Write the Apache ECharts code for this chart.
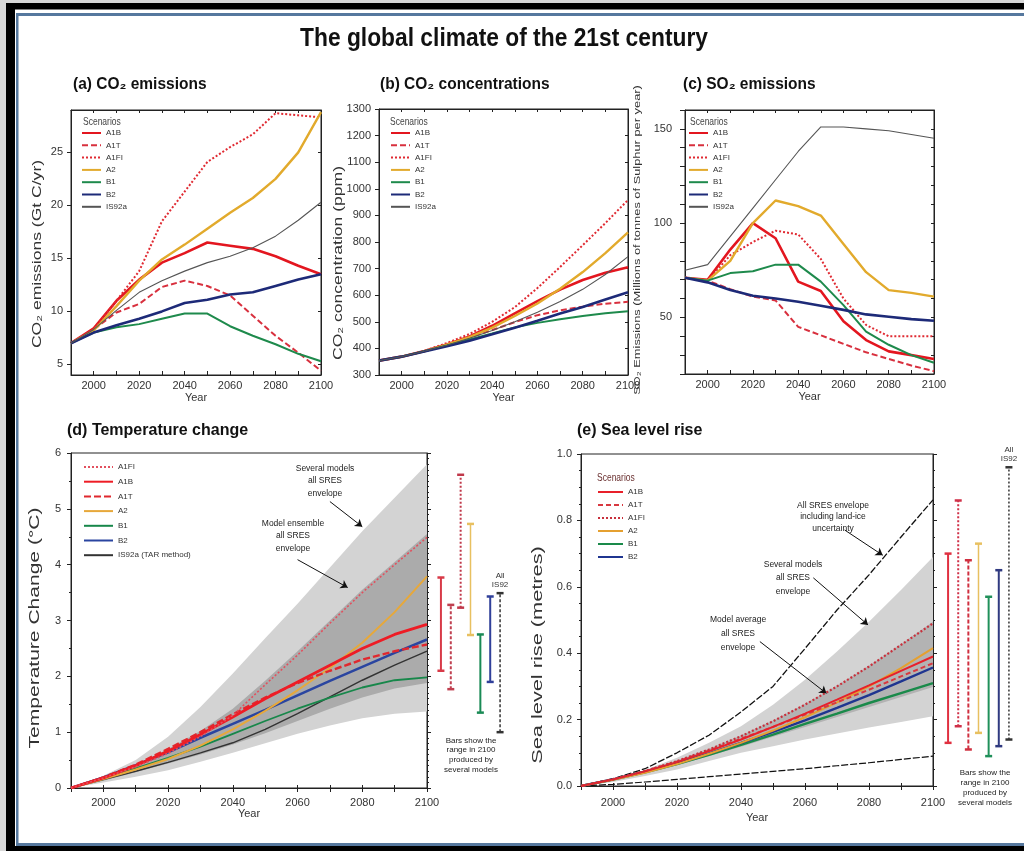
<!DOCTYPE html>
<html><head><meta charset="utf-8">
<script src="https://cdn.jsdelivr.net/npm/echarts@6/dist/echarts.min.js"></script>
<style>html,body{margin:0;padding:0;background:#fff}#c{width:1024px;height:851px}</style>
</head><body><div id="c"></div>
<script>
// ---------------- DATA ----------------
const years = [1990,2000,2010,2020,2030,2040,2050,2060,2070,2080,2090,2100];

// (a) CO2 emissions (Gt C/yr)
const emisA1B   = [7.0, 8.4, 11.0, 13.0, 14.6, 15.5, 16.5, 16.2, 15.9, 15.2, 14.3, 13.5];
const emisA1T   = [7.0, 8.3, 9.9, 10.7, 12.3, 12.9, 12.4, 11.5, 9.6, 7.7, 6.1, 4.4];
const emisA1FI  = [7.0, 8.3, 11.0, 13.8, 18.5, 21.3, 24.1, 25.5, 26.7, 28.7, 28.5, 28.3];
const emisA2    = [7.0, 8.2, 10.5, 12.9, 14.9, 16.3, 17.8, 19.3, 20.7, 22.5, 25.0, 28.8];
const emisB1    = [7.0, 8.0, 8.5, 8.8, 9.3, 9.8, 9.8, 8.6, 7.7, 6.9, 6.0, 5.3];
const emisB2    = [7.0, 8.0, 8.7, 9.3, 10.0, 10.8, 11.1, 11.6, 11.8, 12.4, 13.0, 13.5];
const emisIS92a = [7.0, 8.3, 10.1, 11.8, 12.9, 13.8, 14.6, 15.2, 16.0, 17.1, 18.6, 20.3];

// (b) CO2 concentrations (ppm)
const concA1B   = [354, 369, 390, 415, 445, 485, 532, 578, 621, 657, 684, 705];
const concA1T   = [354, 369, 389, 413, 441, 469, 499, 525, 543, 557, 568, 575];
const concA1FI  = [354, 369, 391, 420, 454, 500, 555, 627, 706, 788, 871, 958];
const concA2    = [354, 369, 389, 414, 442, 478, 522, 569, 624, 687, 758, 836];
const concB1    = [354, 369, 389, 411, 434, 456, 479, 496, 510, 522, 532, 540];
const concB2    = [354, 369, 388, 408, 429, 453, 478, 504, 531, 556, 584, 611];
const concIS92a = [354, 369, 389, 412, 438, 467, 500, 536, 576, 622, 678, 745];

// (c) SO2 emissions (Tg S/yr)
const so2A1B   = [71, 70, 86, 100, 92, 69, 64, 48, 38, 32, 30, 28];
const so2A1T   = [71, 69.5, 65, 61, 59, 45, 40.5, 36, 31.5, 28, 24.5, 21.5];
const so2A1FI  = [71, 69.5, 83, 90, 96, 94, 81, 60, 46, 40, 40, 40];
const so2A2    = [71, 69.5, 80, 100, 112, 109, 104, 89, 74, 64.5, 63, 61];
const so2B1    = [71, 69.5, 73.5, 74.5, 78, 78, 69, 56.5, 42.5, 35.5, 30, 26];
const so2B2    = [71, 68.6, 64.5, 61.5, 60, 58.3, 56.2, 54, 51.6, 50.4, 49.1, 48.2];
const so2IS92a = [75, 78, 93, 108, 123, 138, 151, 151, 150, 149, 147, 145];

// (d) Temperature change (deg C)
const tempA1FI  = [0, 0.18, 0.38, 0.62, 0.92, 1.30, 1.85, 2.38, 2.95, 3.50, 4.00, 4.49];
const tempA1B   = [0, 0.18, 0.40, 0.66, 0.96, 1.27, 1.60, 1.90, 2.20, 2.50, 2.75, 2.93];
const tempA1T   = [0, 0.19, 0.42, 0.70, 1.00, 1.32, 1.62, 1.88, 2.10, 2.30, 2.45, 2.57];
const tempA2    = [0, 0.16, 0.33, 0.52, 0.76, 1.05, 1.38, 1.75, 2.15, 2.60, 3.15, 3.79];
const tempB1    = [0, 0.17, 0.35, 0.54, 0.74, 0.97, 1.20, 1.42, 1.62, 1.80, 1.93, 1.98];
const tempB2    = [0, 0.19, 0.41, 0.64, 0.90, 1.15, 1.40, 1.66, 1.92, 2.17, 2.42, 2.66];
const tempIS92a = [0, 0.15, 0.30, 0.46, 0.63, 0.81, 1.05, 1.33, 1.63, 1.93, 2.20, 2.45];
const tempOuterLow  = [0, 0.10, 0.20, 0.32, 0.47, 0.63, 0.80, 0.97, 1.12, 1.25, 1.33, 1.37];
const tempInnerLow  = [0, 0.13, 0.28, 0.44, 0.60, 0.78, 0.98, 1.20, 1.42, 1.62, 1.78, 1.88];
const tempInnerHigh = [0, 0.20, 0.42, 0.70, 1.02, 1.42, 1.92, 2.45, 3.00, 3.55, 4.05, 4.55];
const tempOuterHigh = [0, 0.22, 0.50, 0.92, 1.45, 2.05, 2.68, 3.30, 3.95, 4.60, 5.20, 5.80];
const tempBarCats = ['A1B','A1T','A1FI','A2','B1','B2','All IS92'];
const tempBarLow  = [2.10, 1.77, 3.23, 2.74, 1.35, 1.90, 1.00];
const tempBarHigh = [3.77, 3.28, 5.61, 4.73, 2.75, 3.43, 3.49];

// (e) Sea level rise (metres)
const seaA1B  = [0, 0.020, 0.044, 0.072, 0.105, 0.140, 0.178, 0.218, 0.260, 0.303, 0.347, 0.390];
const seaA1T  = [0, 0.020, 0.045, 0.074, 0.107, 0.142, 0.178, 0.215, 0.252, 0.290, 0.330, 0.370];
const seaA1FI = [0, 0.020, 0.045, 0.075, 0.110, 0.150, 0.195, 0.245, 0.300, 0.360, 0.425, 0.490];
const seaA2   = [0, 0.019, 0.040, 0.066, 0.097, 0.130, 0.167, 0.207, 0.252, 0.300, 0.355, 0.415];
const seaB1   = [0, 0.019, 0.041, 0.066, 0.094, 0.124, 0.155, 0.187, 0.218, 0.250, 0.280, 0.310];
const seaB2   = [0, 0.020, 0.043, 0.069, 0.098, 0.130, 0.163, 0.198, 0.235, 0.274, 0.315, 0.357];
const seaIceHigh = [0, 0.022, 0.052, 0.100, 0.153, 0.223, 0.300, 0.414, 0.530, 0.636, 0.750, 0.862];
const seaIceLow  = [0, 0.005, 0.012, 0.020, 0.028, 0.036, 0.044, 0.052, 0.061, 0.070, 0.080, 0.090];
const seaOuterLow  = [0, 0.012, 0.030, 0.050, 0.075, 0.100, 0.120, 0.140, 0.158, 0.176, 0.193, 0.210];
const seaInnerLow  = [0, 0.018, 0.039, 0.063, 0.090, 0.118, 0.148, 0.178, 0.208, 0.238, 0.268, 0.298];
const seaInnerHigh = [0, 0.021, 0.046, 0.077, 0.112, 0.152, 0.197, 0.247, 0.302, 0.362, 0.427, 0.495];
const seaOuterHigh = [0, 0.020, 0.048, 0.085, 0.130, 0.180, 0.245, 0.320, 0.405, 0.495, 0.590, 0.690];
const seaBarCats = ['A1B','A1FI','A1T','A2','B1','B2','All IS92'];
const seaBarLow  = [0.13, 0.18, 0.11, 0.16, 0.09, 0.12, 0.14];
const seaBarHigh = [0.70, 0.86, 0.68, 0.73, 0.57, 0.65, 0.96];

// tick label values
const yearLabels = [2000, 2020, 2040, 2060, 2080, 2100];
const emisLabels = [5, 10, 15, 20, 25];
const so2Labels = [50, 100, 150];

// ---------------- STYLES ----------------
const FONT = '"Liberation Sans", Arial, Helvetica, sans-serif';
const stTop = {
  A1B:  {color:'#e3161f', width:2.6, type:'solid'},
  A1T:  {color:'#d8303e', width:2.0, type:[6,3]},
  A1FI: {color:'#e02a32', width:2.0, type:[2,2]},
  A2:   {color:'#e2aa2c', width:2.4, type:'solid'},
  B1:   {color:'#1e8a4c', width:2.0, type:'solid'},
  B2:   {color:'#1d2a78', width:2.6, type:'solid'},
  IS92a:{color:'#555555', width:1.1, type:'solid'}
};
const stD = {
  A1FI: {color:'#e2505e', width:1.6, type:[2,2]},
  A1B:  {color:'#ee1c25', width:2.8, type:'solid'},
  A1T:  {color:'#e0282e', width:2.4, type:[7,3]},
  A2:   {color:'#e7a83a', width:2.0, type:'solid'},
  B1:   {color:'#17874a', width:1.8, type:'solid'},
  B2:   {color:'#2a45a0', width:2.5, type:'solid'},
  IS92a:{color:'#333333', width:1.4, type:'solid'}
};
const stE = {
  A1B:  {color:'#e8202a', width:2.0, type:'solid'},
  A1T:  {color:'#d83840', width:2.0, type:[5,3]},
  A1FI: {color:'#c8303c', width:2.2, type:[2,2]},
  A2:   {color:'#e5a030', width:2.0, type:'solid'},
  B1:   {color:'#1a8a4a', width:2.4, type:'solid'},
  B2:   {color:'#1f3590', width:2.4, type:'solid'}
};
const barStD = [
  {color:'#d83a48', width:2, type:'solid'},
  {color:'#c04050', width:2, type:[3,2]},
  {color:'#c0384a', width:2, type:[2,2]},
  {color:'#e8c060', width:1.5, type:'solid'},
  {color:'#1a8a55', width:2, type:'solid'},
  {color:'#30409a', width:2, type:'solid'},
  {color:'#333333', width:1.5, type:[3,2]}
];
const barStE = [
  {color:'#e03040', width:2, type:'solid'},
  {color:'#d03048', width:2, type:[2,2]},
  {color:'#d03040', width:2, type:[4,2]},
  {color:'#e8c060', width:1.5, type:'solid'},
  {color:'#20905a', width:2, type:'solid'},
  {color:'#303a80', width:2, type:'solid'},
  {color:'#333333', width:1.5, type:[2,2]}
];

// ---------------- BUILD ----------------
const pts = arr => years.map((y,i)=>[y, arr[i]]);
const tag = '#';
const fmtName = n => n.split(tag)[0];

function mkLine(panel, key, data, st, gi, extra){
  return Object.assign({
    type:'line', name:key+tag+panel, xAxisIndex:gi, yAxisIndex:gi,
    data:pts(data), symbol:'none', showSymbol:false, silent:true, z:3,
    lineStyle:{color:st.color, width:st.width, type:st.type},
    itemStyle:{color:st.color}
  }, extra||{});
}
function bandCustom(gi, lo, hi, color){
  return {type:'custom', xAxisIndex:gi, yAxisIndex:gi, silent:true, z:1,
    data: years.map((y,i)=>[y, lo[i], hi[i]]),
    encode:{x:0, y:[1,2]},
    renderItem:(params, api)=>{
      if (params.dataIndex !== 0) return null;
      const up = years.map((y,i)=>api.coord([y, hi[i]]));
      const dn = years.map((y,i)=>api.coord([y, lo[i]])).reverse();
      return {type:'polygon', shape:{points: up.concat(dn)}, style:{fill:color}};
    }};
}
function barSeries(ai, cats, lows, highs, styles){
  return cats.map((c,i)=>{
    const hiItem = {value:[c, highs[i]]};
    if (c === 'All IS92') hiItem.label = {show:true, position:'top', distance:3, formatter:'All\nIS92',
      fontSize:8, lineHeight:9, color:'#333', fontFamily:FONT};
    return {type:'line', name:c+tag+'bar'+ai, xAxisIndex:ai, yAxisIndex:ai, silent:true, z:3,
      data:[{value:[c, lows[i]]}, hiItem], symbol:'rect', symbolSize:[7,2.5], showSymbol:true,
      lineStyle:{color:styles[i].color, width:styles[i].width, type:styles[i].type},
      itemStyle:{color:styles[i].color}};
  });
}

const grids = [
  {left:71,  top:110, width:250, height:265},
  {left:379, top:109, width:249, height:266},
  {left:685, top:110, width:249, height:264},
  {left:71,  top:453, width:356, height:335},
  {left:581, top:454, width:352, height:332},
  {left:436, top:453, width:69,  height:335},
  {left:943, top:454, width:71,  height:332}
].map((g,i)=>Object.assign({show:i<5, borderColor:'#222', borderWidth:1, backgroundColor:'transparent'}, g));

const axisLineS = {show:true, lineStyle:{color:'#222', width:1}};
const labS = {fontSize:11, color:'#333', fontFamily:FONT};
const yearFmt = v => yearLabels.indexOf(v) >= 0 ? String(v) : '';
const xMargins = [5,5,5,9,11];
const xInside = [true,true,true,false,false];
const xNameGap = [17,17,17,20,26];

const xAxes = [], yAxes = [];
for (let p=0;p<5;p++){
  xAxes.push({type:'value', gridIndex:p, min:1990, max:2100, interval:10, position:'bottom',
    axisLine:axisLineS, splitLine:{show:false},
    axisTick:{show:true, inside:xInside[p], length:4, lineStyle:{color:'#222'}},
    axisLabel:Object.assign({formatter:yearFmt, margin:xMargins[p]}, labS),
    name:'Year', nameLocation:'middle', nameGap:xNameGap[p],
    nameTextStyle:{fontSize:11, color:'#333', fontFamily:FONT}});
}
for (let p=0;p<5;p++){
  xAxes.push({type:'value', gridIndex:p, min:1990, max:2100, interval:10, position:'top',
    axisLine:axisLineS, splitLine:{show:false}, axisLabel:{show:false},
    axisTick:{show:true, inside:p<3, length:3, lineStyle:{color:'#222'}}});
}
xAxes.push({type:'category', gridIndex:5, data:tempBarCats, show:false, boundaryGap:true});
xAxes.push({type:'category', gridIndex:6, data:seaBarCats, show:false, boundaryGap:true});

const plain = v => String(v);
const yMain = [
  {min:4, max:29, axisLabel:{customValues:emisLabels, margin:8, formatter:plain}, axisTick:{customValues:emisLabels, length:4}},
  {min:300, max:1300, interval:100, axisLabel:{margin:8, formatter:plain}, axisTick:{length:4}},
  {min:20, max:160, interval:10, axisLabel:{formatter:v=>so2Labels.indexOf(v)>=0?String(v):'', margin:13}, axisTick:{length:5}},
  {min:0, max:6, interval:1, axisLabel:{margin:10, formatter:plain}, axisTick:{length:4}, minorTick:{show:true, splitNumber:2, length:2, lineStyle:{color:'#222'}}},
  {min:0, max:1, interval:0.2, axisLabel:{margin:9, formatter:v=>v.toFixed(1)}, axisTick:{length:4}, minorTick:{show:true, splitNumber:4, length:2, lineStyle:{color:'#222'}}}
];
for (let p=0;p<5;p++){
  const m = yMain[p];
  yAxes.push({type:'value', gridIndex:p, min:m.min, max:m.max, interval:m.interval, position:'left',
    axisLine:axisLineS, splitLine:{show:false},
    axisTick:Object.assign({show:true, inside:false, lineStyle:{color:'#222'}}, m.axisTick),
    minorTick:m.minorTick,
    axisLabel:Object.assign({}, labS, m.axisLabel)});
}
for (let p=0;p<5;p++){
  const m = yMain[p];
  yAxes.push({type:'value', gridIndex:p, min:m.min, max:m.max, interval:m.interval, position:'right',
    axisLine:axisLineS, splitLine:{show:false}, axisLabel:{show:false},
    axisTick:{show:true, inside:p<3, length:p<3?3:4, lineStyle:{color:'#222'}, customValues:m.axisTick.customValues},
    minorTick:p>=3?{show:true, splitNumber:p===3?10:4, length:2, lineStyle:{color:'#222'}}:undefined});
}
yAxes.push({type:'value', gridIndex:5, min:0, max:6, show:false});
yAxes.push({type:'value', gridIndex:6, min:0, max:1, show:false});

const series = [];
// (a)
[['A1B',emisA1B],['A1T',emisA1T],['A1FI',emisA1FI],['A2',emisA2],['B1',emisB1],['B2',emisB2],['IS92a',emisIS92a]]
  .forEach(([k,d])=>series.push(mkLine('a',k,d,stTop[k],0)));
// (b)
[['A1B',concA1B],['A1T',concA1T],['A1FI',concA1FI],['A2',concA2],['B1',concB1],['B2',concB2],['IS92a',concIS92a]]
  .forEach(([k,d])=>series.push(mkLine('b',k,d,stTop[k],1)));
// (c)
[['A1B',so2A1B],['A1T',so2A1T],['A1FI',so2A1FI],['A2',so2A2],['B1',so2B1],['B2',so2B2],['IS92a',so2IS92a]]
  .forEach(([k,d])=>series.push(mkLine('c',k,d,stTop[k],2)));
// (d)
series.push(bandCustom(3, tempOuterLow, tempOuterHigh, '#d3d3d3'));
series.push(bandCustom(3, tempInnerLow, tempInnerHigh, '#ababab'));
const arrowML = (pairs)=>({silent:true, symbol:['none','arrow'], symbolSize:7, animation:false,
  lineStyle:{color:'#111', width:1, type:'solid'}, label:{show:false},
  data:pairs.map(p=>[{coord:p[0]},{coord:p[1]}])});
series.push(mkLine('d','IS92a (TAR method)',tempIS92a,stD.IS92a,3,
  {markLine:arrowML([[[2070,5.13],[2080,4.68]],[[2060,4.09],[2075.5,3.59]]])}));
[['B1',tempB1],['B2',tempB2],['A2',tempA2],['A1T',tempA1T],['A1B',tempA1B],['A1FI',tempA1FI]]
  .forEach(([k,d])=>series.push(mkLine('d',k,d,stD[k],3)));
barSeries(10,tempBarCats,tempBarLow,tempBarHigh,barStD).forEach(s=>series.push(s));
// (e)
series.push(bandCustom(4, seaOuterLow, seaOuterHigh, '#d3d3d3'));
series.push(bandCustom(4, seaInnerLow, seaInnerHigh, '#b3b3b3'));
series.push(mkLine('e','iceHigh',seaIceHigh,{color:'#111',width:1.3,type:[7,2]},4,
  {markLine:arrowML([[[2072.4,0.771],[2084.3,0.695]],[[2062.6,0.627],[2079.7,0.485]],[[2045.9,0.435],[2066.7,0.279]]])}));
series.push(mkLine('e','iceLow',seaIceLow,{color:'#111',width:1.2,type:[7,2]},4));
[['B1',seaB1],['B2',seaB2],['A2',seaA2],['A1T',seaA1T],['A1B',seaA1B],['A1FI',seaA1FI]]
  .forEach(([k,d])=>series.push(mkLine('e',k,d,stE[k],4)));
barSeries(11,seaBarCats,seaBarLow,seaBarHigh,barStE).forEach(s=>series.push(s));

const topKeys = ['A1B','A1T','A1FI','A2','B1','B2','IS92a'];
const legTxt = {fontSize:8, color:'#333', fontFamily:FONT};
function leg(left, top, names, w, h, gap){
  return {left, top, orient:'vertical', padding:0, itemWidth:w, itemHeight:h, itemGap:gap,
    selectedMode:false, data:names, formatter:fmtName, textStyle:legTxt, itemStyle:{opacity:0}};
}
const legends = [
  leg(81, 129, topKeys.map(k=>k+tag+'a'), 19, 8, 4.3),
  leg(390,129, topKeys.map(k=>k+tag+'b'), 19, 8, 4.3),
  leg(688,129, topKeys.map(k=>k+tag+'c'), 19, 8, 4.3),
  leg(83, 463, ['A1FI','A1B','A1T','A2','B1','B2','IS92a (TAR method)'].map(k=>k+tag+'d'), 29, 8, 6.7),
  leg(597,488, ['A1B','A1T','A1FI','A2','B1','B2'].map(k=>k+tag+'e'), 25, 8, 5)
];

function gtext(x, y, text, o){
  o = o||{};
  return {type:'text', x, y, silent:true, z:100, rotation:o.rot||0, scaleX:o.sx||1, scaleY:o.sy||1,
    style:{text, fontSize:o.fs||9, fontWeight:o.bold?'bold':'normal', fontFamily:FONT,
      fill:o.color||'#222', textAlign:o.align||'center', textVerticalAlign:'middle', lineHeight:o.lh}};
}
const R = (x,y,w,h,c)=>({type:'rect', silent:true, z:50, shape:{x,y,width:w,height:h}, style:{fill:c}});
const graphics = [
  R(0,0,1024,3,'#d8d8d8'), R(0,0,6,851,'#d8d8d8'),
  R(6,3,1018,6.5,'#000'), R(6,3,9,848,'#000'), R(6,846,1018,5,'#000'),
  R(16,13,1008,3,'#56789e'), R(16,13,2.5,833,'#56789e'), R(16,843,1008,3,'#56789e'),
  gtext(504, 39, 'The global climate of the 21st century', {fs:22.8, bold:true, sy:1.15, color:'#111'}),
  gtext(73, 85, '(a) CO₂ emissions', {fs:15.5, bold:true, sy:1.05, align:'left', color:'#111'}),
  gtext(380, 85, '(b) CO₂ concentrations', {fs:15.5, bold:true, sy:1.05, align:'left', color:'#111'}),
  gtext(683, 85, '(c) SO₂ emissions', {fs:15.5, bold:true, sy:1.05, align:'left', color:'#111'}),
  gtext(67, 430, '(d) Temperature change', {fs:16, bold:true, sy:1.05, align:'left', color:'#111'}),
  gtext(577, 430, '(e) Sea level rise', {fs:16, bold:true, sy:1.05, align:'left', color:'#111'}),
  gtext(37, 254, 'CO₂ emissions (Gt C/yr)', {fs:13, rot:Math.PI/2, sx:1.35, color:'#333'}),
  gtext(338, 263, 'CO₂ concentration (ppm)', {fs:13, rot:Math.PI/2, sx:1.35, color:'#333'}),
  gtext(637, 240, 'SO₂ Emissions (Millions of tonnes of Sulphur per year)', {fs:9.9, rot:Math.PI/2, sx:1.3, color:'#333'}),
  gtext(35, 628, 'Temperature Change (°C)', {fs:14.5, rot:Math.PI/2, sx:1.45, color:'#333'}),
  gtext(538, 655, 'Sea level rise (metres)', {fs:15, rot:Math.PI/2, sx:1.45, color:'#333'}),
  gtext(83, 122, 'Scenarios', {fs:8.5, align:'left', sy:1.2, color:'#444'}),
  gtext(390, 122, 'Scenarios', {fs:8.5, align:'left', sy:1.2, color:'#444'}),
  gtext(690, 122, 'Scenarios', {fs:8.5, align:'left', sy:1.2, color:'#444'}),
  gtext(597, 478, 'Scenarios', {fs:8.5, align:'left', sy:1.2, color:'#6a3030'}),
  gtext(325, 481, 'Several models\nall SRES\nenvelope', {fs:8.5, lh:12.5}),
  gtext(293, 536, 'Model ensemble\nall SRES\nenvelope', {fs:8.5, lh:12.5}),
  gtext(833, 517, 'All SRES envelope\nincluding land-ice\nuncertainty', {fs:8.5, lh:11.5}),
  gtext(793, 578, 'Several models\nall SRES\nenvelope', {fs:8.5, lh:13.5}),
  gtext(738, 634, 'Model average\nall SRES\nenvelope', {fs:8.5, lh:14}),
  gtext(471, 755, 'Bars show the\nrange in 2100\nproduced by\nseveral models', {fs:8, lh:9.7}),
  gtext(985, 788, 'Bars show the\nrange in 2100\nproduced by\nseveral models', {fs:8, lh:10})
];

const chart = echarts.init(document.getElementById('c'), null, {renderer:'canvas'});
chart.setOption({
  animation:false, backgroundColor:'#ffffff',
  grid:grids, xAxis:xAxes, yAxis:yAxes, legend:legends, series, graphic:{elements:graphics}
});
</script></body></html>
